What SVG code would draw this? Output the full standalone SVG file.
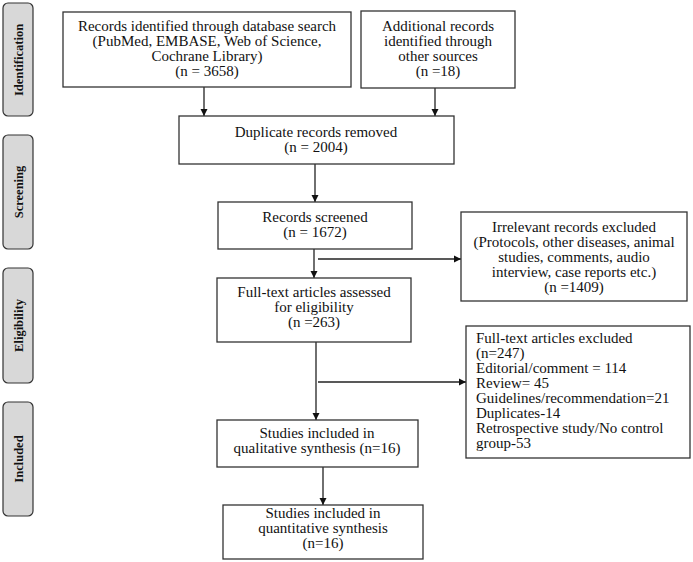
<svg xmlns="http://www.w3.org/2000/svg" width="693" height="562" viewBox="0 0 693 562">
<style>
text{font-family:"Liberation Serif","Times New Roman",serif;font-size:15px;fill:#111}
.box{fill:#fff;stroke:#333;stroke-width:1.3}
.side{fill:#d8d8d8;stroke:#333;stroke-width:1.2}
.sl{font-weight:bold;font-size:12.5px;text-anchor:middle}
.c{text-anchor:middle}
.ln{fill:none;stroke:#222;stroke-width:1.3}
</style>
<defs>
<marker id="ah" markerWidth="8" markerHeight="8" refX="7" refY="4" orient="auto" markerUnits="userSpaceOnUse">
<path d="M0,0.5 L7,4 L0,7.5 Z" fill="#111"/>
</marker>
</defs>
<rect width="693" height="562" fill="#fff"/>

<g id="side-identification"><rect class="side" x="3" y="3" width="30" height="113" rx="5"/><text class="sl" transform="translate(23,60) rotate(-90)">Identification</text></g>
<g id="side-screening"><rect class="side" x="3" y="135" width="30" height="114" rx="5"/><text class="sl" transform="translate(23,192) rotate(-90)">Screening</text></g>
<g id="side-eligibility"><rect class="side" x="3" y="268" width="30" height="115" rx="5"/><text class="sl" transform="translate(23,325.5) rotate(-90)">Eligibility</text></g>
<g id="side-included"><rect class="side" x="3" y="402" width="30" height="114" rx="5"/><text class="sl" transform="translate(23,459) rotate(-90)">Included</text></g>

<g id="connectors">
<line class="ln" x1="204" y1="87" x2="204" y2="116" marker-end="url(#ah)"/>
<line class="ln" x1="435" y1="88" x2="435" y2="116" marker-end="url(#ah)"/>
<line class="ln" x1="315" y1="164" x2="315" y2="202" marker-end="url(#ah)"/>
<line class="ln" x1="314" y1="249" x2="314" y2="278" marker-end="url(#ah)"/>
<line class="ln" x1="318" y1="259" x2="461" y2="259" marker-end="url(#ah)"/>
<line class="ln" x1="316" y1="342" x2="316" y2="420" marker-end="url(#ah)"/>
<line class="ln" x1="318" y1="382" x2="466" y2="382" marker-end="url(#ah)"/>
<line class="ln" x1="323" y1="467" x2="323" y2="505" marker-end="url(#ah)"/>
</g>

<g id="n-database"><rect class="box" x="63" y="12" width="288" height="75"/>
<text class="c" x="207" y="31">Records identified through database search</text>
<text class="c" x="207" y="46">(PubMed, EMBASE, Web of Science,</text>
<text class="c" x="207" y="61">Cochrane Library)</text>
<text class="c" x="207" y="76">(n = 3658)</text></g>

<g id="n-additional"><rect class="box" x="361" y="11" width="154" height="77"/>
<text class="c" x="438" y="31">Additional records</text>
<text class="c" x="438" y="46">identified through</text>
<text class="c" x="438" y="61">other sources</text>
<text class="c" x="438" y="76">(n =18)</text></g>

<g id="n-duplicates"><rect class="box" x="179" y="116" width="275" height="48"/>
<text class="c" x="316" y="137">Duplicate records removed</text>
<text class="c" x="316" y="152">(n = 2004)</text></g>

<g id="n-screened"><rect class="box" x="218" y="202" width="194" height="47"/>
<text class="c" x="315" y="222">Records screened</text>
<text class="c" x="315" y="237">(n = 1672)</text></g>

<g id="n-irrelevant"><rect class="box" x="461" y="212" width="226" height="89"/>
<text class="c" x="574" y="232">Irrelevant records excluded</text>
<text class="c" x="574" y="247">(Protocols, other diseases, animal</text>
<text class="c" x="574" y="262">studies, comments, audio</text>
<text class="c" x="574" y="277">interview, case reports etc.)</text>
<text class="c" x="574" y="292">(n =1409)</text></g>

<g id="n-fulltext"><rect class="box" x="217" y="278" width="194" height="64"/>
<text class="c" x="314" y="297">Full-text articles assessed</text>
<text class="c" x="314" y="312">for eligibility</text>
<text class="c" x="314" y="327">(n =263)</text></g>

<g id="n-excluded"><rect class="box" x="466" y="326" width="224" height="132"/>
<text x="476" y="343">Full-text articles excluded</text>
<text x="476" y="358">(n=247)</text>
<text x="476" y="373">Editorial/comment = 114</text>
<text x="476" y="388">Review= 45</text>
<text x="476" y="403">Guidelines/recommendation=21</text>
<text x="476" y="418">Duplicates-14</text>
<text x="476" y="433">Retrospective study/No control</text>
<text x="476" y="448">group-53</text></g>

<g id="n-qualitative"><rect class="box" x="217" y="420" width="201" height="47"/>
<text class="c" x="317" y="438">Studies included in</text>
<text class="c" x="317" y="453">qualitative synthesis (n=16)</text></g>

<g id="n-quantitative"><rect class="box" x="223" y="505" width="200" height="54"/>
<text class="c" x="323" y="518">Studies included in</text>
<text class="c" x="323" y="533">quantitative synthesis</text>
<text class="c" x="323" y="548">(n=16)</text></g>
</svg>
